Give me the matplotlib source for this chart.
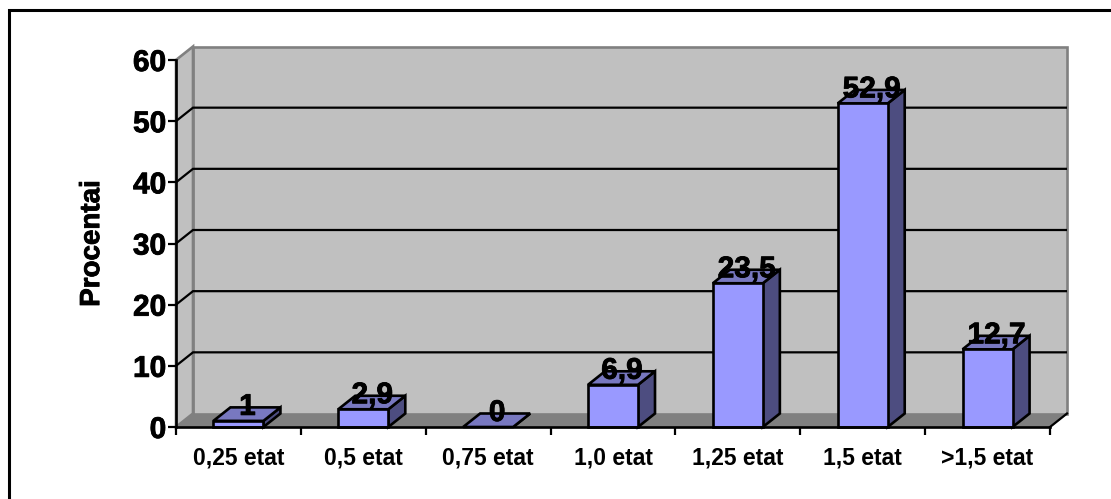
import matplotlib
matplotlib.use("Agg")
import matplotlib.pyplot as plt
import matplotlib.patheffects as pe
from matplotlib.lines import Line2D
from matplotlib.patches import Polygon

categories = ["0,25 etat", "0,5 etat", "0,75 etat", "1,0 etat", "1,25 etat", "1,5 etat", ">1,5 etat"]
values = [1, 2.9, 0, 6.9, 23.5, 52.9, 12.7]
value_labels = ["1", "2,9", "0", "6,9", "23,5", "52,9", "12,7"]
y_ticks = [0, 10, 20, 30, 40, 50, 60]

W, H = 1111, 499
LEFT, RIGHT, TOP, BOTTOM = 176, 1050, 60, 427  # front plane, pixels
DX = 17 / (RIGHT - LEFT) * 7       # depth in x units
DY = 13.5 / (BOTTOM - TOP) * 60    # depth in y units
BAR_W = 50 / (RIGHT - LEFT) * 7

plt.rcParams["font.family"] = ["Liberation Sans", "DejaVu Sans"]
plt.rcParams["font.weight"] = "bold"

fig = plt.figure(figsize=(W / 100, H / 100), dpi=100, facecolor="white")

# frame only shows on the top and left, it runs off the other two sides
fig.add_artist(Line2D([8.5 / W, 8.5 / W, 1], [0, 1 - 9.5 / H, 1 - 9.5 / H],
                      transform=fig.transFigure, color="black", lw=2.2,
                      solid_joinstyle="miter"))

ax = fig.add_axes([LEFT / W, 1 - BOTTOM / H, (RIGHT - LEFT) / W, (BOTTOM - TOP) / H])
ax.set_xlim(0, 7)
ax.set_ylim(0, 60)
ax.patch.set_visible(False)

heavy = [pe.withStroke(linewidth=0.6, foreground="black")]


def poly(pts, fc, ec, lw, z):
    ax.add_patch(Polygon(pts, closed=True, fc=fc, ec=ec, lw=lw, zorder=z, clip_on=False, joinstyle="miter"))


# walls and floor
poly([(0, 0), (7, 0), (7 + DX, DY), (DX, DY)], "#808080", "#808080", 1.0, 1)
poly([(DX, DY), (7 + DX, DY), (7 + DX, 60 + DY), (DX, 60 + DY)], "#c0c0c0", "#808080", 1.9, 1)
poly([(0, 0), (DX, DY), (DX, 60 + DY), (0, 60)], "#c0c0c0", "#808080", 1.9, 1)

# gridlines run across the back wall and down the side wall
for t in y_ticks[1:-1]:
    ax.plot([0, DX, 7 + DX], [t, t + DY, t + DY], color="black", lw=1.6, zorder=2, clip_on=False,
            solid_joinstyle="miter", solid_capstyle="butt")

# floor edge at the right
ax.plot([7, 7 + DX], [0, DY], color="black", lw=1.6, zorder=2, clip_on=False)

for i, v in enumerate(values):
    x0 = i + 0.5 - BAR_W / 2
    x1 = x0 + BAR_W
    poly([(x1, 0), (x1 + DX, DY), (x1 + DX, v + DY), (x1, v)], "#4d4d80", "black", 1.9, 3)
    poly([(x0, v), (x1, v), (x1 + DX, v + DY), (x0 + DX, v + DY)], "#7878c0", "black", 1.9, 3)
    if v > 0:
        poly([(x0, 0), (x1, 0), (x1, v), (x0, v)], "#9999ff", "black", 1.9, 4)
    ax.annotate(value_labels[i], (i + 0.5, v), xytext=(9, 0), textcoords="offset pixels",
                ha="center", va="bottom", fontsize=21.5, fontweight="bold", color="black", zorder=6,
                annotation_clip=False, path_effects=heavy)

ax.set_yticks(y_ticks)
ax.set_yticklabels([str(t) for t in y_ticks], fontsize=21.5, fontweight="bold", path_effects=heavy)
ax.set_xticks(range(8))
ax.set_xticklabels([])
ax.set_xticks([i + 0.5 for i in range(7)], minor=True)
ax.set_xticklabels(categories, minor=True, fontsize=16.5, fontweight="bold")
ax.tick_params(axis="x", which="minor", length=0, pad=14)
ax.tick_params(axis="x", which="major", direction="out", length=6, width=1.6, color="black")
ax.tick_params(axis="y", direction="out", length=6, width=1.6, pad=1)

for s in ["top", "right"]:
    ax.spines[s].set_visible(False)
for s in ["left", "bottom"]:
    ax.spines[s].set_linewidth(1.9)
    ax.spines[s].set_zorder(5)

ax.set_ylabel("Procentai", fontsize=20, fontweight="bold", labelpad=20, path_effects=heavy)

fig.savefig("out.png", dpi=100)
